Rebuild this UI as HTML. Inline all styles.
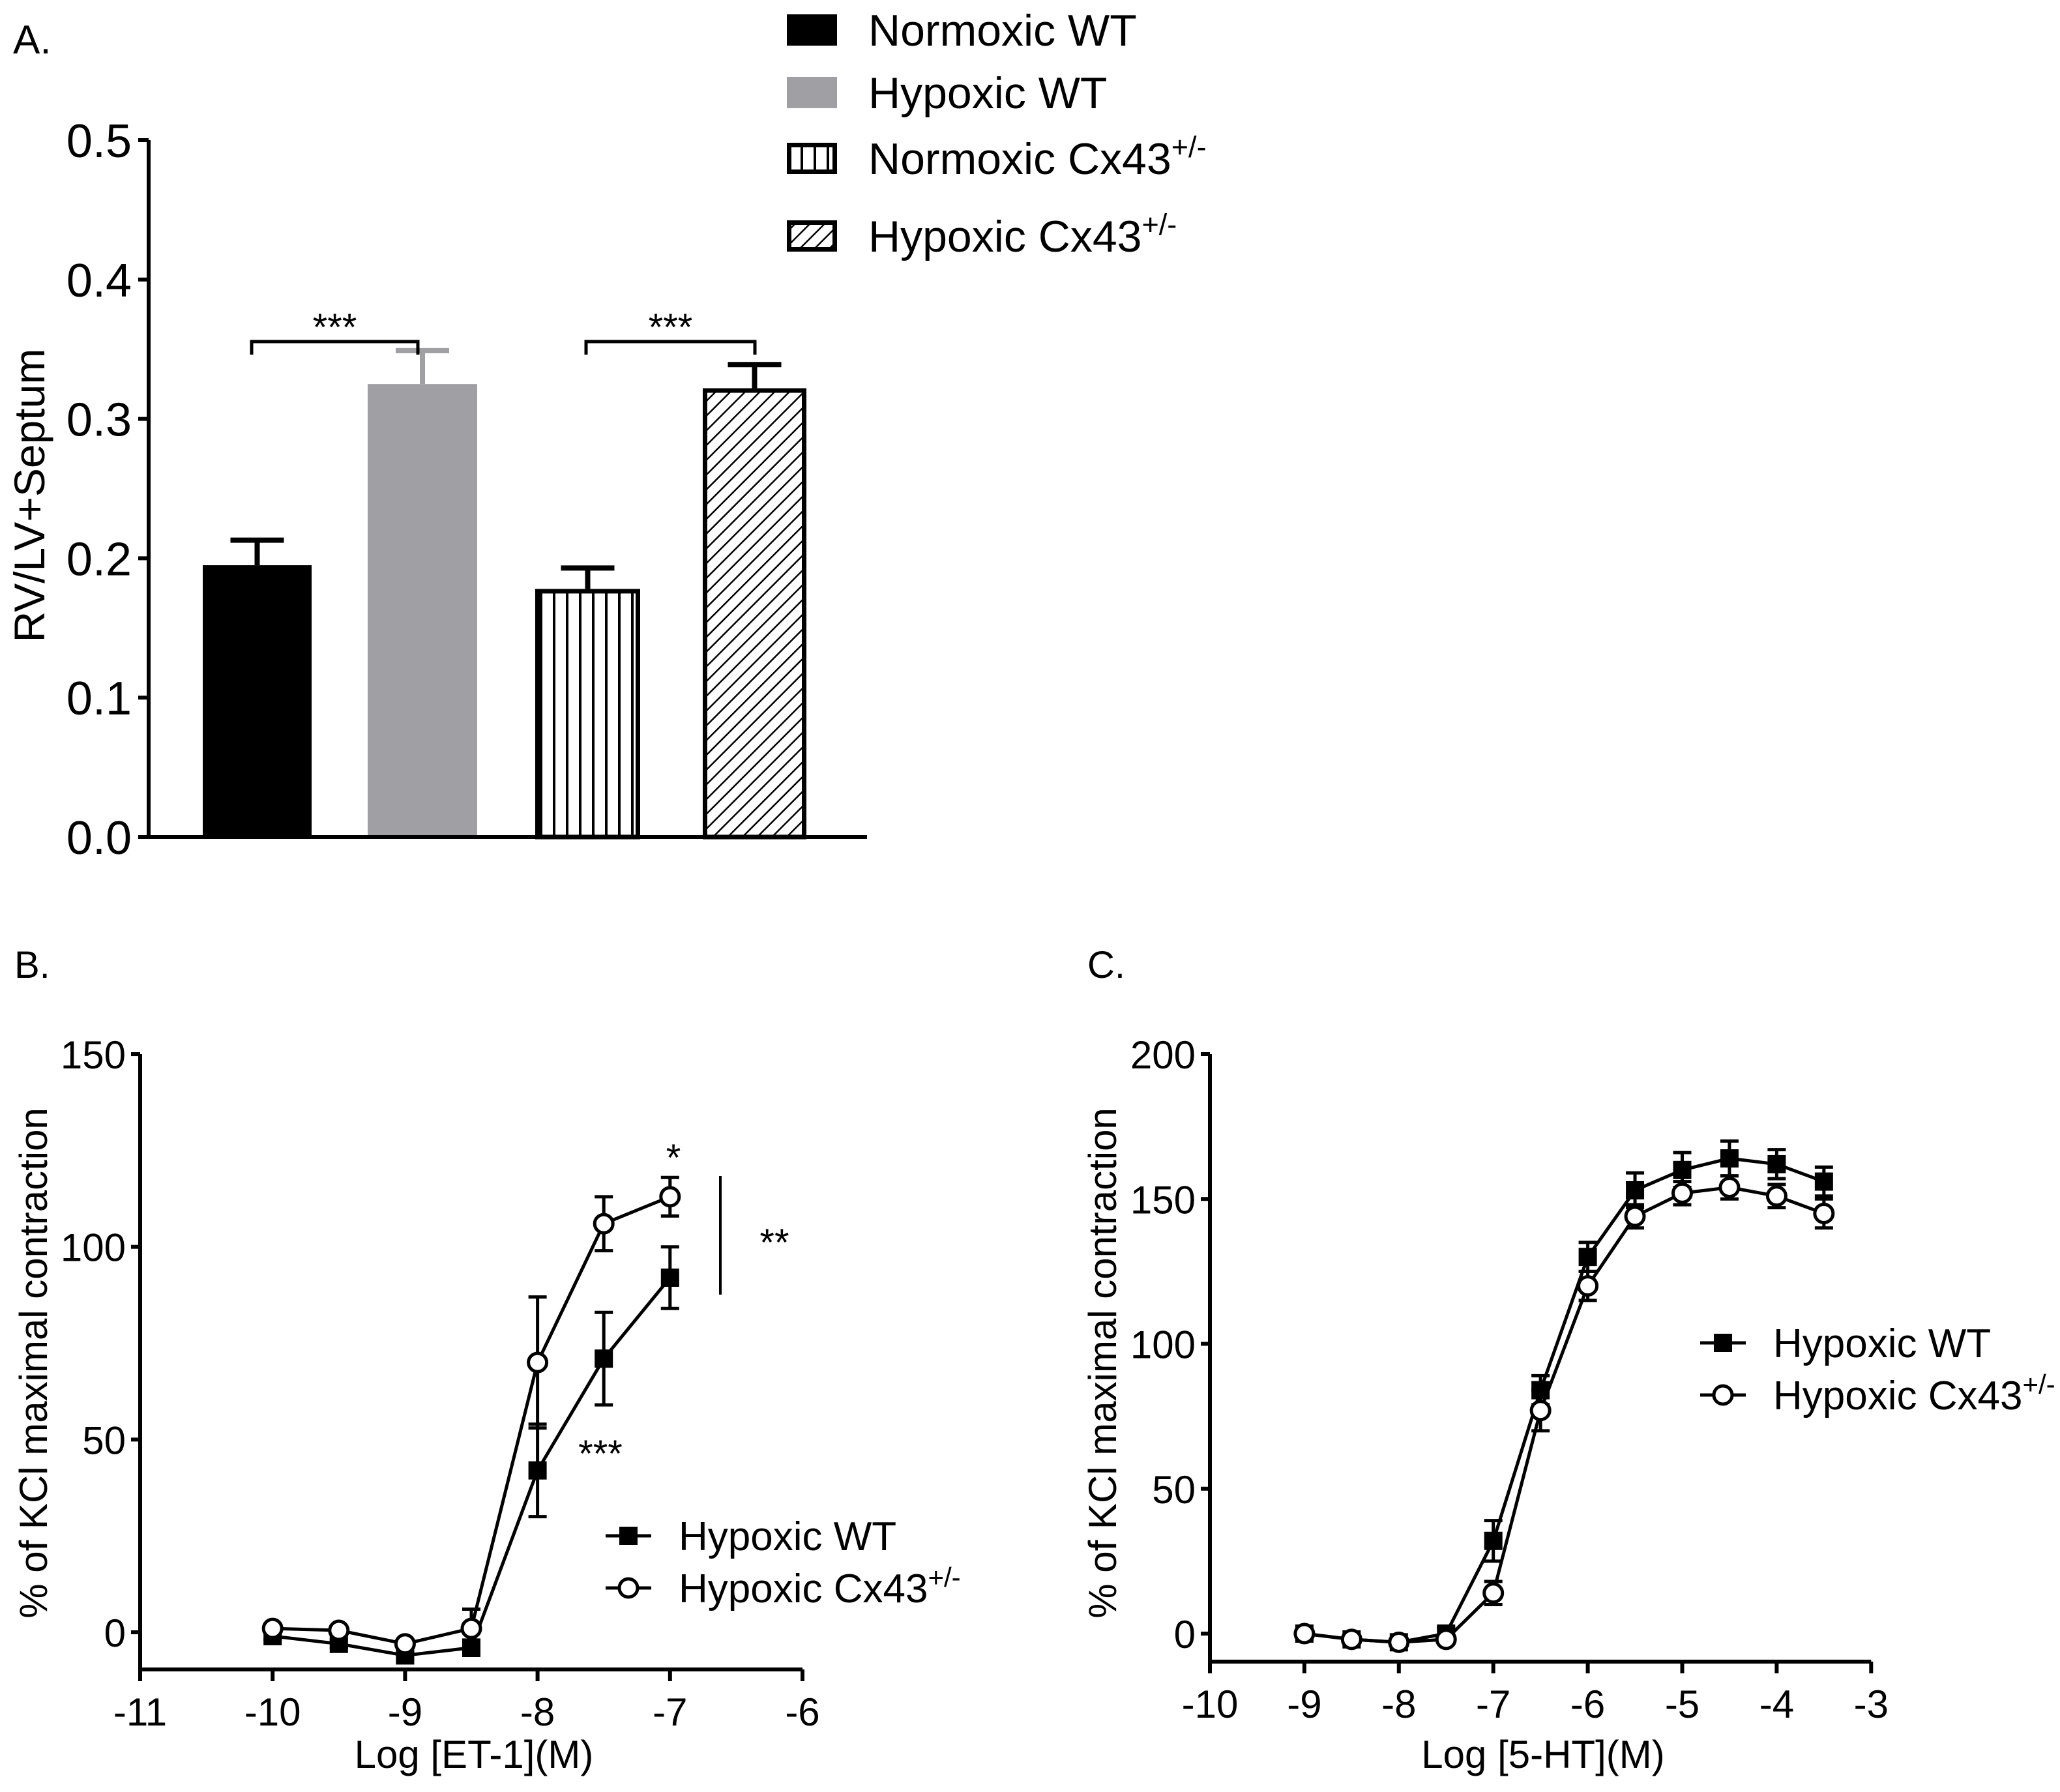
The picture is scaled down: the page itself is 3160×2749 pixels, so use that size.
<!DOCTYPE html>
<html><head><meta charset="utf-8"><style>
html,body{margin:0;padding:0;background:#fff;}
svg{display:block;font-family:"Liberation Sans",Arial,sans-serif;}
</style></head><body>
<svg id="fig" width="3160" height="2749" viewBox="0 0 3160 2749" xmlns="http://www.w3.org/2000/svg">
<defs>
<pattern id="vstripe" patternUnits="userSpaceOnUse" width="20" height="20"><rect width="20" height="20" fill="#fff"/><line x1="10" y1="0" x2="10" y2="20" stroke="#000" stroke-width="4"/></pattern>
<pattern id="diag" patternUnits="userSpaceOnUse" width="16" height="16" patternTransform="rotate(45)"><rect width="16" height="16" fill="#fff"/><line x1="0" y1="0" x2="0" y2="16" stroke="#000" stroke-width="5"/></pattern>
</defs>
<g id="pA"></g>
<g id="pB"></g>
<g id="pC"></g>
</svg>
<script>
// Panel A data
const aCategories = ["Normoxic WT","Hypoxic WT","Normoxic Cx43+/-","Hypoxic Cx43+/-"];
const aValues = [0.195, 0.325, 0.178, 0.322];
const aErrors = [0.018, 0.024, 0.015, 0.017];
const aTicks = [0, 0.1, 0.2, 0.3, 0.4, 0.5];
// Panel B data
const bX = [-10, -9.5, -9, -8.5, -8, -7.5, -7];
const bWT = [-1, -3, -6, -4, 42, 71, 92];
const bWTErr = [1, 1, 1, 2, 12, 12, 8];
const bCx = [1, 0.5, -3, 1, 70, 106, 113];
const bCxErr = [1, 1, 1, 5, 17, 7, 5];
const bXTicks = [-11, -10, -9, -8, -7, -6];
const bYTicks = [0, 50, 100, 150];
// Panel C data
const cX = [-9, -8.5, -8, -7.5, -7, -6.5, -6, -5.5, -5, -4.5, -4, -3.5];
const cWT = [0, -2, -3, 0, 32, 84, 130, 153, 160, 164, 162, 156];
const cWTErr = [1, 1, 1, 2, 7, 5, 5, 6, 6, 6, 5, 5];
const cCx = [0, -2, -3, -2, 14, 77, 120, 144, 152, 154, 151, 145];
const cCxErr = [1, 1, 1, 1, 4, 7, 5, 4, 4, 4, 4, 5];
const cXTicks = [-10, -9, -8, -7, -6, -5, -4, -3];
const cYTicks = [0, 50, 100, 150, 200];

const NS = "http://www.w3.org/2000/svg";
function mk(parent, tag, attrs, text) {
  const e = document.createElementNS(NS, tag);
  for (const k in attrs) e.setAttribute(k, attrs[k]);
  if (text !== undefined) e.textContent = text;
  parent.appendChild(e);
  return e;
}

// ---------- Panel A ----------
(function(){
  const g = document.getElementById('pA');
  const x0 = 228, yTop = 215, yBot = 1284, xEnd = 1330;
  const ys = v => yBot - (v / 0.5) * (yBot - yTop);
  const barLeft = [311, 564, 821, 1078], barW = [167, 168, 161, 159];
  const fills = ["#000", "#a0a0a4", "url(#vstripe)", "url(#diag)"];
  let t = mk(g, 'text', {x: 20, y: 82, 'font-size': 62});
  t.textContent = 'A.';
  
  
  aValues.forEach((v, i) => {
    const outlined = i >= 2;
    const sw = outlined ? 7 : 0;
    const r = mk(g, 'rect', {x: barLeft[i] + sw/2, y: ys(v) + sw/2, width: barW[i] - sw, height: yBot - ys(v) - sw/2, fill: fills[i], stroke: outlined ? '#000' : 'none', 'stroke-width': sw});
    
    
    const cx = barLeft[i] + barW[i] / 2;
    const col = i === 1 ? '#a0a0a4' : '#000';
    const e = mk(g, 'path', {d: `M${cx},${ys(v)} V${ys(v + aErrors[i])} M${cx - 41},${ys(v + aErrors[i])} H${cx + 41}`, stroke: col, 'stroke-width': 8, fill: 'none'});
    
    
  });
  const ax = mk(g, 'path', {d: `M${x0},${yTop} V${yBot} M${x0 - 3},${yBot} H${xEnd}`, stroke: '#000', 'stroke-width': 6, fill: 'none'});
  
  
  aTicks.forEach(v => {
    mk(g, 'line', {x1: x0 - 16, x2: x0, y1: ys(v), y2: ys(v), stroke: '#000', 'stroke-width': 6});
    const tl = mk(g, 'text', {x: x0 - 26, y: ys(v) + 26, 'font-size': 72, 'text-anchor': 'end'}, v.toFixed(1));
    
    
  });
  const yt = mk(g, 'text', {x: 0, y: 0, 'font-size': 66, 'text-anchor': 'middle', transform: 'translate(68,760) rotate(-90)'}, 'RV/LV+Septum');
  
  
  [[386, 641], [899, 1158]].forEach((b, i) => {
    const p = mk(g, 'path', {d: `M${b[0]},${544} V${524} H${b[1]} V${544}`, stroke: '#000', 'stroke-width': 5, fill: 'none'});
    
    
    const s = mk(g, 'text', {x: (b[0] + b[1]) / 2, y: 522, 'font-size': 58, 'text-anchor': 'middle'}, '***');
    
    
  });
  const rows = [22, 118, 219, 338];
  const labels = [['Normoxic WT', ''], ['Hypoxic WT', ''], ['Normoxic Cx43', '+/-'], ['Hypoxic Cx43', '+/-']];
  rows.forEach((y, i) => {
    const sw = i >= 2 ? 7 : 0;
    const r = mk(g, 'rect', {x: 1207 + sw/2, y: y + sw/2, width: 77 - sw, height: 48 - sw, fill: fills[i], stroke: i >= 2 ? '#000' : 'none', 'stroke-width': sw});
    
    
    const tx = mk(g, 'text', {x: 1332, y: y + 48, 'font-size': 68});
    tx.textContent = labels[i][0];
    if (labels[i][1]) mk(tx, 'tspan', {dy: -26, 'font-size': 45}, labels[i][1]);
    
    
  });
})();

// ---------- line panels ----------
function linePanel(gid, o) {
  const g = document.getElementById(gid);
  const xs = v => o.px0 + (v - o.xMin) * o.pxPerUnit;
  const ys = v => o.py0 - v * o.pyPerUnit;
  const lab = mk(g, 'text', {x: o.labX, y: o.labY, 'font-size': 58}, o.label);
  
  
  const ax = mk(g, 'path', {d: `M${o.px0},${ys(o.yMax)} V${o.axisY} M${o.px0},${o.axisY} H${xs(o.xMax)}`, stroke: '#000', 'stroke-width': 6, fill: 'none'});
  
  
  o.yTicks.forEach(v => {
    mk(g, 'line', {x1: o.px0 - 14, x2: o.px0, y1: ys(v), y2: ys(v), stroke: '#000', 'stroke-width': 6});
    const t = mk(g, 'text', {x: o.px0 - 22, y: ys(v) + 22, 'font-size': 60, 'text-anchor': 'end'}, String(v));
    
    
  });
  o.xTicks.forEach(v => {
    mk(g, 'line', {x1: xs(v), x2: xs(v), y1: o.axisY, y2: o.axisY + 18, stroke: '#000', 'stroke-width': 6});
    const t = mk(g, 'text', {x: xs(v), y: o.axisY + 86, 'font-size': 60, 'text-anchor': 'middle'}, String(v));
    
    
  });
  const xt = mk(g, 'text', {x: o.xTitleX, y: 2712, 'font-size': 60, 'text-anchor': 'middle'}, o.xTitle);
  
  
  const yt = mk(g, 'text', {x: 0, y: 0, 'font-size': 60, 'text-anchor': 'middle', transform: `translate(${o.yTitleX},2091) rotate(-90)`}, '% of KCl maximal contraction');
  
  
  function series(xv, yv, ev, circ, name) {
    const sg = mk(g, 'g', {});
    
    
    const pts = xv.map((x, i) => xs(x) + ',' + ys(yv[i])).join(' ');
    mk(sg, 'polyline', {points: pts, fill: 'none', stroke: '#000', 'stroke-width': 5});
    xv.forEach((x, i) => {
      const cx = xs(x), top = ys(yv[i] + ev[i]), bot = ys(yv[i] - ev[i]);
      const eb = mk(sg, 'path', {d: `M${cx},${top} V${bot} M${cx - 14},${top} H${cx + 14} M${cx - 14},${bot} H${cx + 14}`, stroke: '#000', 'stroke-width': 5, fill: 'none'});
      
      
      let m;
      if (circ) m = mk(sg, 'circle', {cx: cx, cy: ys(yv[i]), r: 14, fill: '#fff', stroke: '#000', 'stroke-width': 5});
      else m = mk(sg, 'rect', {x: cx - 14, y: ys(yv[i]) - 14, width: 28, height: 28, fill: '#000'});
      
      
    });
  }
  series(o.x, o.wt, o.wtErr, false, 'series-hypoxic-wt');
  series(o.x, o.cx, o.cxErr, true, 'series-hypoxic-cx43');
  [[o.legY[0], false, 'Hypoxic WT', ''], [o.legY[1], true, 'Hypoxic Cx43', '+/-']].forEach(r => {
    const lg = mk(g, 'g', {});
    
    
    mk(lg, 'line', {x1: o.legX, x2: o.legX + 70, y1: r[0], y2: r[0], stroke: '#000', 'stroke-width': 5});
    const mx = o.legX + 35;
    if (r[1]) mk(lg, 'circle', {cx: mx, cy: r[0], r: 14, fill: '#fff', stroke: '#000', 'stroke-width': 5});
    else mk(lg, 'rect', {x: mx - 14, y: r[0] - 14, width: 28, height: 28, fill: '#000'});
    const t = mk(lg, 'text', {x: o.legX + 112, y: r[0] + 22, 'font-size': 62}, r[2]);
    if (r[3]) mk(t, 'tspan', {dy: -24, 'font-size': 42}, r[3]);
  });
  return {g, xs, ys};
}

const B = linePanel('pB', {label: 'B.', labX: 22, labY: 1500, px0: 215, xMin: -11, xMax: -6, pxPerUnit: 203.2, py0: 2504, pyPerUnit: 5.913, yMax: 150, axisY: 2561,
  yTicks: bYTicks, xTicks: bXTicks, x: bX, wt: bWT, wtErr: bWTErr, cx: bCx, cxErr: bCxErr,
  xTitle: 'Log [ET-1](M)', xTitleX: 727, yTitleX: 72, legX: 929, legY: [2356, 2436]});
(function(){
  const g = B.g;
  let t = mk(g, 'text', {x: 1033, y: 1796, 'font-size': 58, 'text-anchor': 'middle'}, '*');
   
  let l = mk(g, 'line', {x1: 1105, x2: 1105, y1: 1804, y2: 1986, stroke: '#000', 'stroke-width': 4});
   
  t = mk(g, 'text', {x: 1188, y: 1926, 'font-size': 58, 'text-anchor': 'middle'}, '**');
   
  t = mk(g, 'text', {x: 921, y: 2250, 'font-size': 58, 'text-anchor': 'middle'}, '***');
   
})();

linePanel('pC', {label: 'C.', labX: 1668, labY: 1500, px0: 1856, xMin: -10, xMax: -3, pxPerUnit: 144.9, py0: 2506, pyPerUnit: 4.445, yMax: 200, axisY: 2549,
  yTicks: cYTicks, xTicks: cXTicks, x: cX, wt: cWT, wtErr: cWTErr, cx: cCx, cxErr: cCxErr,
  xTitle: 'Log [5-HT](M)', xTitleX: 2367, yTitleX: 1712, legX: 2608, legY: [2060, 2140]});
</script>
</body></html>
